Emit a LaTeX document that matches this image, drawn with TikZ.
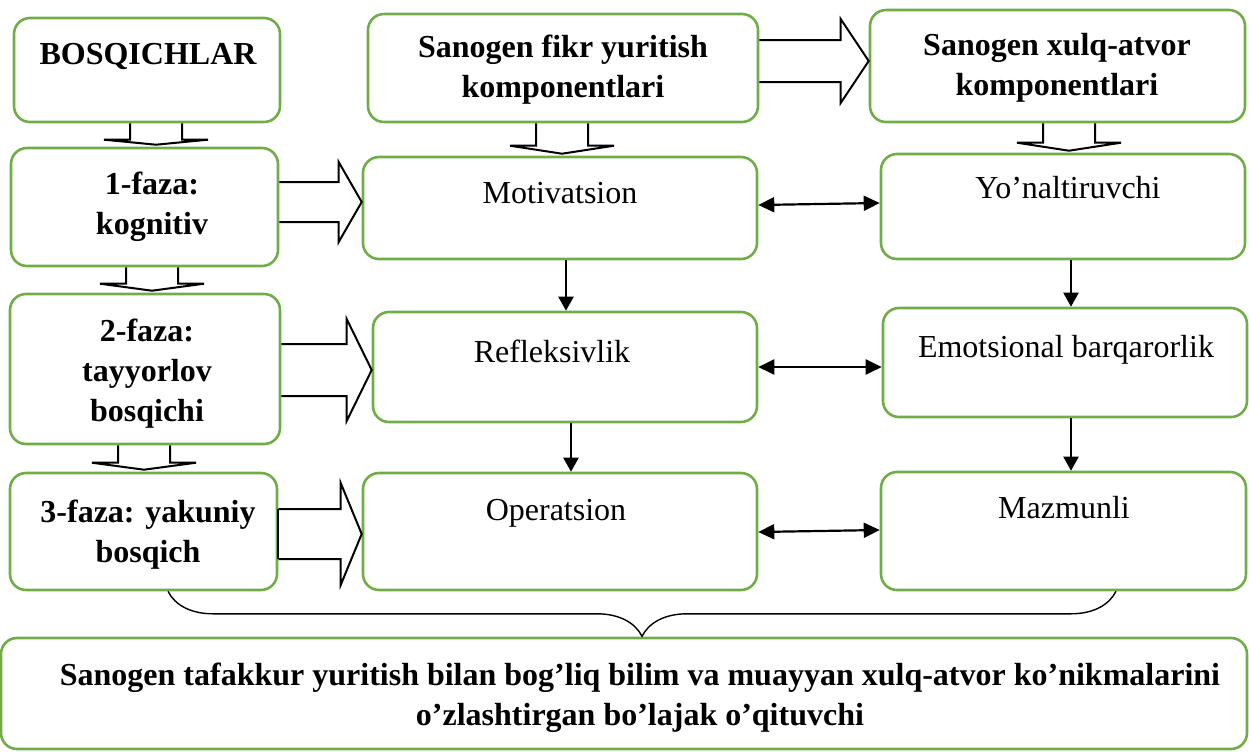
\documentclass[tikz,border=0pt]{standalone}
\usepackage{fontspec}
\setmainfont{Liberation Serif}
\usetikzlibrary{calc,fit,arrows.meta,decorations.pathreplacing}
\definecolor{boxgreen}{HTML}{70AD47}
\tikzset{
  box/.style={draw=boxgreen, line width=1.3pt, rounded corners=8pt, inner sep=0pt},
  txt/.style={font=\fontsize{16}{20}\selectfont, align=center, inner sep=0pt},
  btxt/.style={font=\fontsize{16}{20}\selectfont\bfseries, align=center, inner sep=0pt},
  blk/.style={draw=black, line width=1pt},
  onearrow/.style={line width=1.1pt, -{Triangle[length=7pt,width=7.5pt]}},
  twoarrow/.style={line width=1.1pt, {Triangle[length=8pt,width=7.5pt]}-{Triangle[length=8pt,width=7.5pt]}},
  curly/.style={decorate, decoration={brace, amplitude=22.5pt}, line width=0.7pt}
}
% wide arrow to the right: source, target, y, shaft half, head half, head length
\newcommand\hblock[6]{%
  \draw[blk] ($(#1.east|-0,#3)+(0,-#4)$) -| ($(#2.west|-0,#3)+(-#6,-#5)$) -- (#2.west|-0,#3)
    -- ($(#2.west|-0,#3)+(-#6,#5)$) |- ($(#1.east|-0,#3)+(0,#4)$);}
% wide arrow downwards: source, target, x, head depth
\newcommand\vblock[4]{%
  \coordinate (vbtip) at ($(#2.north -| #3,0)+(0,-2)$);
  \draw[blk] ($(#1.south -| #3,0)+(-26,0)$) -- ($(vbtip)+(-26,-#4)$) -- ($(vbtip)+(-52,-#4)$)
    -- (vbtip) -- ($(vbtip)+(52,-#4)$) -- ($(vbtip)+(26,-#4)$) -- ($(#1.south -| #3,0)+(26,0)$);}
\begin{document}
\begin{tikzpicture}[x=0.5pt, y=-0.5pt]
\useasboundingbox (0,0) rectangle (1249,751);

% left column: stages
\node[box, fit={(14,18) (280,122)}] (bosq) {};
\node[box, fit={(11,148) (278,266)}] (f1) {};
\node[box, fit={(10,294) (280,444)}] (f2) {};
\node[box, fit={(10,473) (277,590)}] (f3) {};
% middle column
\node[box, fit={(368,14) (758,122)}] (fikr) {};
\node[box, fit={(363,157) (757,259)}] (mot) {};
\node[box, fit={(373,312) (757,422)}] (refl) {};
\node[box, fit={(363,473) (757,590)}] (oper) {};
% right column
\node[box, fit={(870,10) (1245,122)}] (xulq) {};
\node[box, fit={(881,154) (1245,259)}] (yon) {};
\node[box, fit={(883,308) (1247,417)}] (emo) {};
\node[box, fit={(881,472) (1246,590)}] (maz) {};
% result
\node[box, fit={(1,638) (1247,749)}] (res) {};

% texts
\node[btxt, anchor=base] (t-bosq) at (148,64) {BOSQICHLAR};
\node[btxt] (t-f1) at (152,207) {1-faza:\\kognitiv};
\node[btxt] (t-f2) at (147,374) {2-faza:\\tayyorlov\\bosqichi};
\node[btxt] (t-f3) at (148,535) {3-faza: yakuniy\\bosqich};
\node[btxt] (t-fikr) at (563,70) {Sanogen fikr yuritish\\komponentlari};
\node[btxt] (t-xulq) at (1057,68) {Sanogen xulq-atvor\\komponentlari};
\node[txt, anchor=base] (t-mot) at (560,203) {Motivatsion};
\node[txt, anchor=base] (t-refl) at (552,362) {Refleksivlik};
\node[txt, anchor=base] (t-oper) at (556,520) {Operatsion};
\node[txt, anchor=base] (t-yon) at (1068,198) {Yo’naltiruvchi};
\node[txt, anchor=base] (t-emo) at (1066,357) {Emotsional barqarorlik};
\node[txt, anchor=base] (t-maz) at (1064,518) {Mazmunli};
\node[btxt] (t-res) at (640,698) {Sanogen tafakkur yuritish bilan bog’liq bilim va muayyan xulq-atvor ko’nikmalarini\\o’zlashtirgan bo’lajak o’qituvchi};

% wide arrows
\vblock{bosq}{f1}{156}{5}
\vblock{f1}{f2}{152}{7}
\vblock{f2}{f3}{144}{7}
\vblock{fikr}{mot}{562}{8}
\vblock{xulq}{yon}{1069}{8}
\hblock{fikr}{xulq}{61}{21}{42}{28}
\hblock{f1}{mot}{202}{20}{40}{23}
\hblock{f2}{refl}{370}{26}{51}{25}
\hblock{f3}{oper}{534}{25}{51}{21}
\draw[blk] (f3.east|-0,509) -- (f3.east|-0,559);

% thin arrows
\draw[onearrow] (mot.south -| 566,0) -- (refl.north -| 566,0);
\draw[onearrow] (refl.south -| 571,0) -- (oper.north -| 571,0);
\draw[onearrow] (yon.south -| 1071,0) -- (emo.north -| 1071,0);
\draw[onearrow] (emo.south -| 1071,0) -- (maz.north -| 1071,0);
\draw[twoarrow] (mot.east|-0,205) -- (yon.west|-0,203);
\draw[twoarrow] (refl.east|-0,367) -- (emo.west|-0,367);
\draw[twoarrow] (oper.east|-0,532) -- (maz.west|-0,530);

% brace to the result
\draw[curly] (maz.south -| 1116,0) -- (f3.south -| 168,0);
\end{tikzpicture}
\end{document}
